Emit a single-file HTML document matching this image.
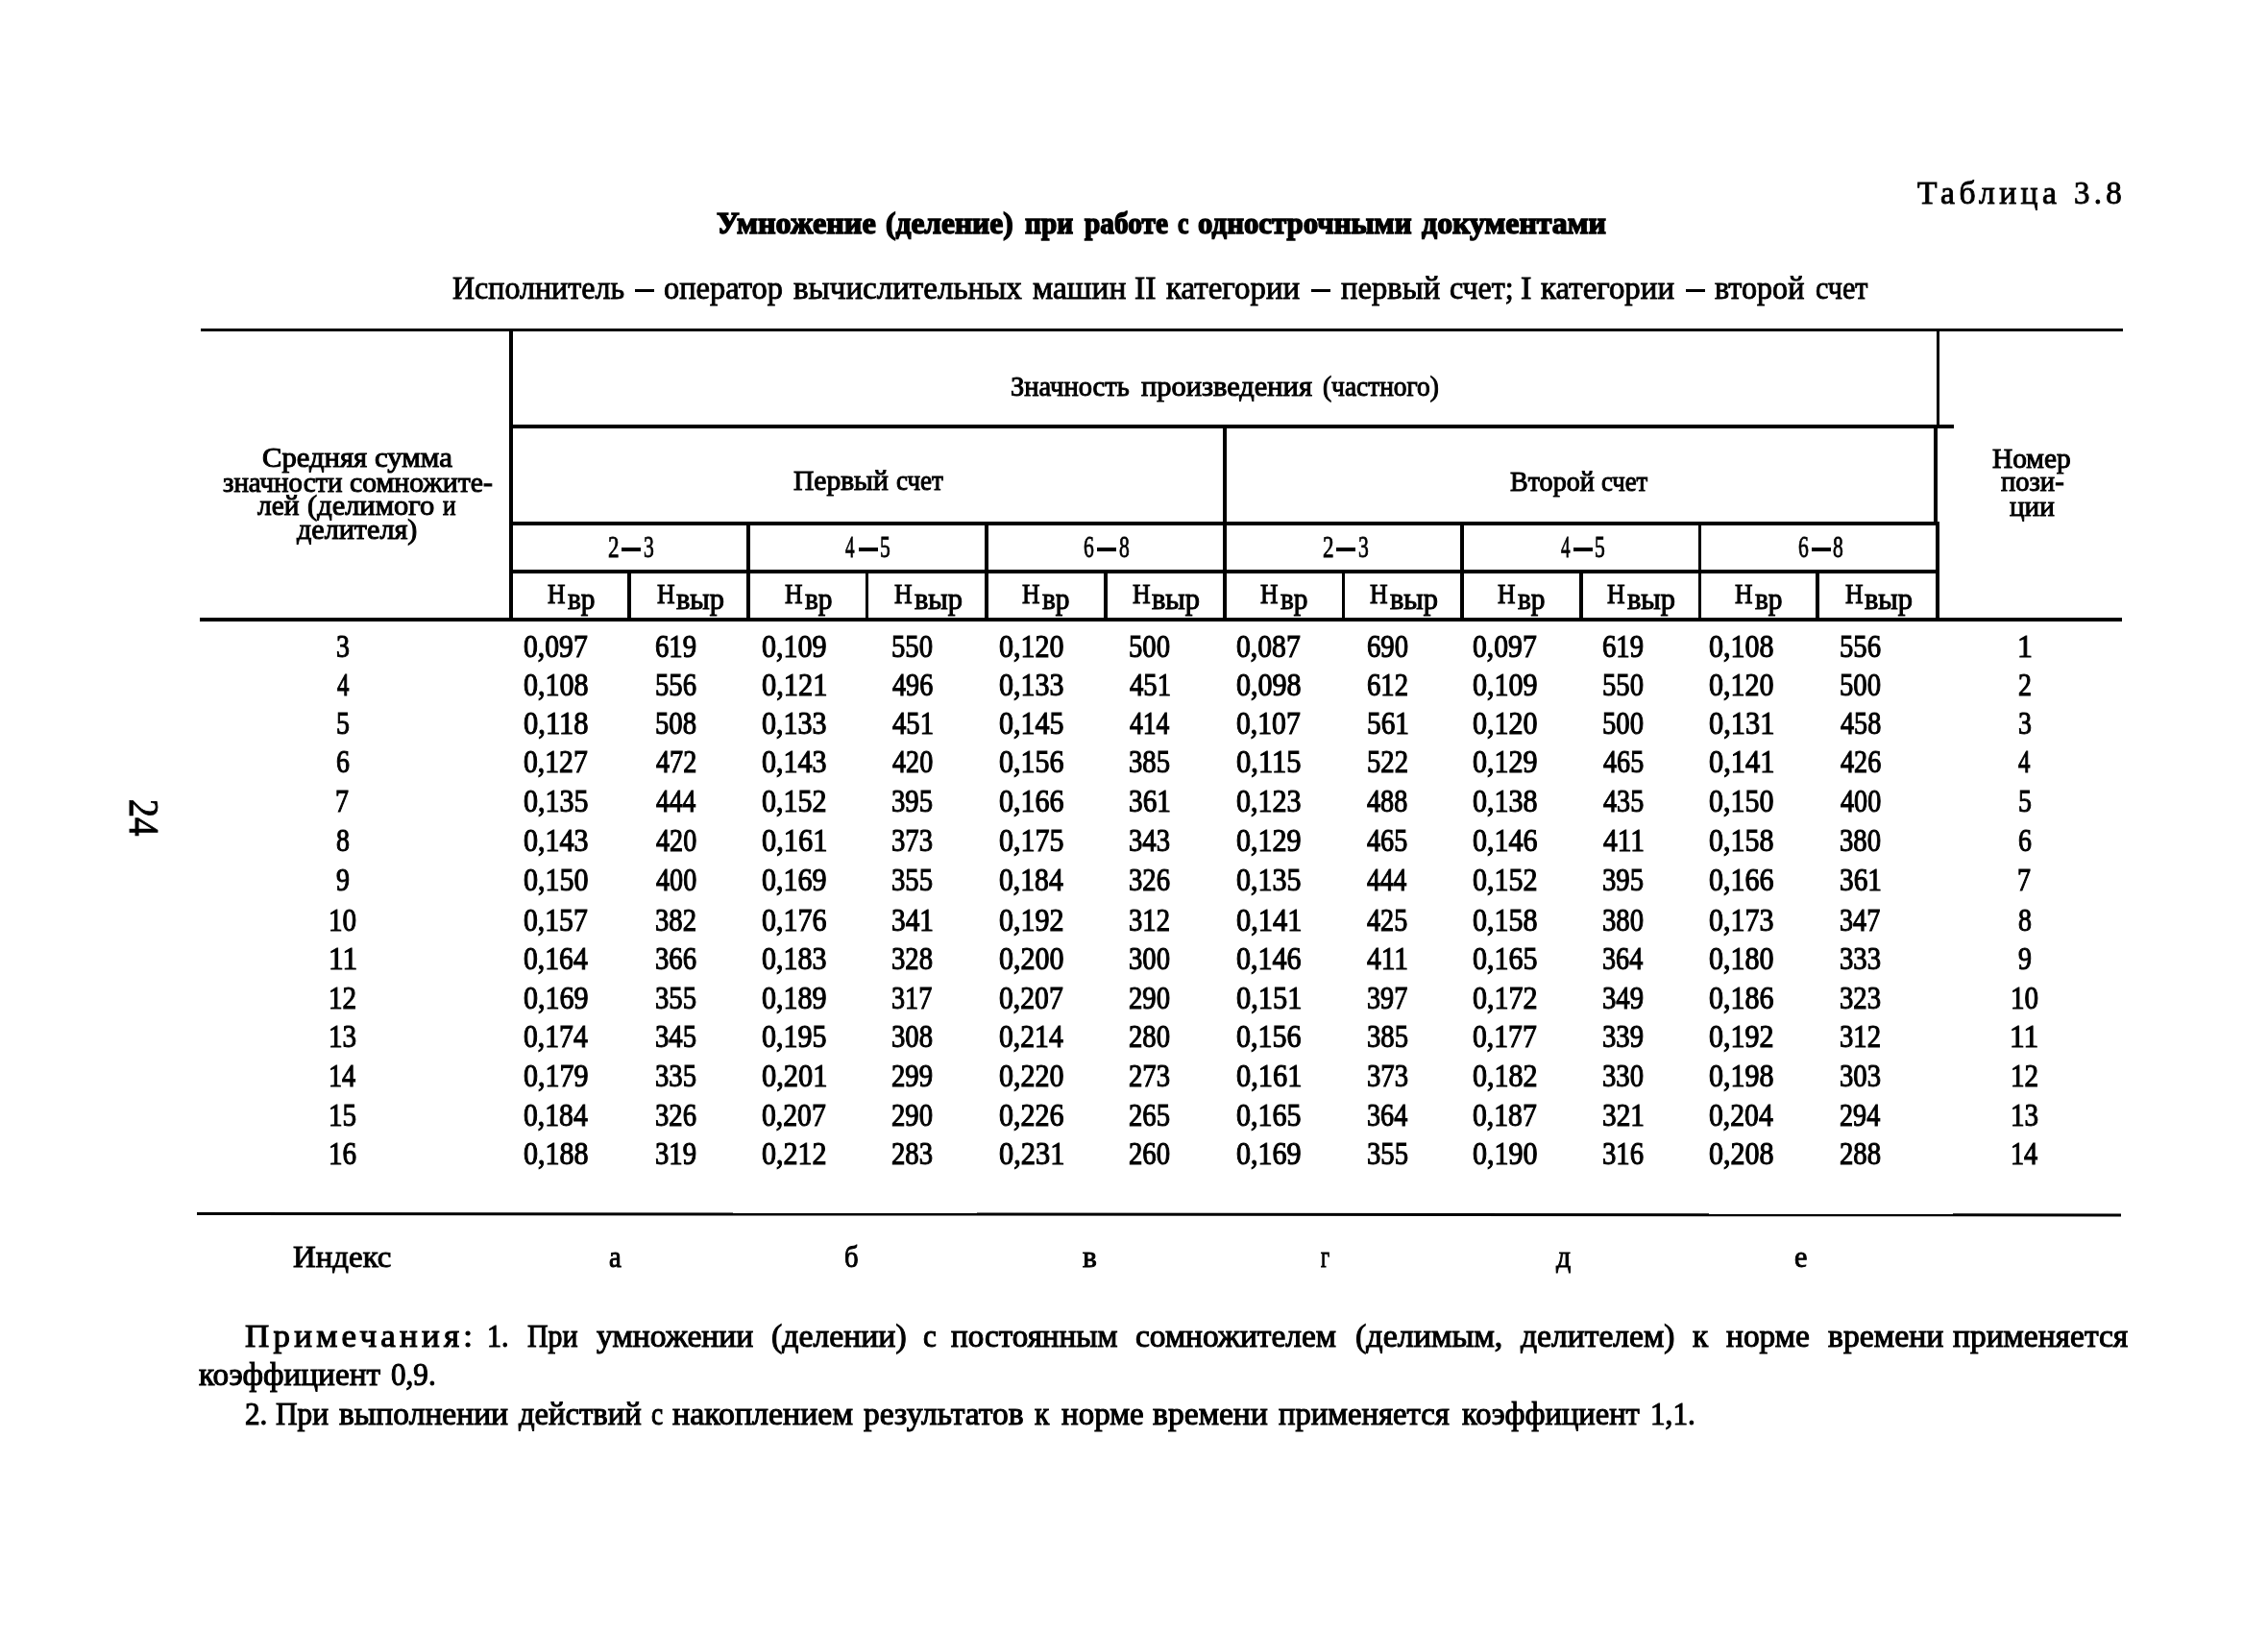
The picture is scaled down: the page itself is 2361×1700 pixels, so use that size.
<!DOCTYPE html>
<html lang="ru"><head><meta charset="utf-8"><title>Таблица 3.8</title>
<style>
html,body{margin:0;padding:0;background:#fff;}
body{width:2361px;height:1700px;position:relative;overflow:hidden;font-family:"Liberation Serif", serif;color:#000;}
.t{position:absolute;white-space:pre;line-height:1;transform-origin:0 0;margin:0;padding:0;}
.ln{position:absolute;background:#000;}
#pg{position:absolute;left:0;top:0;width:2361px;height:1700px;will-change:transform;}
</style></head>
<body><div id="pg">
<div class="ln" style="left:208.5px;top:341.8px;width:2001.3px;height:3.7px"></div>
<div class="ln" style="left:530.0px;top:442.4px;width:1504.0px;height:3.9px"></div>
<div class="ln" style="left:530.0px;top:543.2px;width:1489.0px;height:3.9px"></div>
<div class="ln" style="left:530.0px;top:593.3px;width:1489.0px;height:3.9px"></div>
<div class="ln" style="left:208.0px;top:643.2px;width:2000.6px;height:3.9px"></div>
<div class="ln" style="left:205.2px;top:1261.8px;width:2002.8px;height:3.3px;transform-origin:0 50%;transform:rotate(0.043deg)"></div>
<div class="ln" style="left:530.0px;top:342.0px;width:4.1px;height:305.0px"></div>
<div class="ln" style="left:2015.5px;top:342.0px;width:3.9px;height:102.5px"></div>
<div class="ln" style="left:2013.2px;top:444.5px;width:3.9px;height:100.7px"></div>
<div class="ln" style="left:2015.3px;top:545.2px;width:3.9px;height:101.8px"></div>
<div class="ln" style="left:1272.9px;top:444.0px;width:3.8px;height:203.0px"></div>
<div class="ln" style="left:776.8px;top:545.0px;width:3.9px;height:102.0px"></div>
<div class="ln" style="left:1025.2px;top:545.0px;width:3.9px;height:102.0px"></div>
<div class="ln" style="left:1520.2px;top:545.0px;width:3.9px;height:102.0px"></div>
<div class="ln" style="left:1767.6px;top:545.0px;width:3.9px;height:102.0px"></div>
<div class="ln" style="left:653.4px;top:595.0px;width:3.8px;height:52.0px"></div>
<div class="ln" style="left:900.7px;top:595.0px;width:3.8px;height:52.0px"></div>
<div class="ln" style="left:1149.4px;top:595.0px;width:3.8px;height:52.0px"></div>
<div class="ln" style="left:1396.6px;top:595.0px;width:3.8px;height:52.0px"></div>
<div class="ln" style="left:1644.0px;top:595.0px;width:3.8px;height:52.0px"></div>
<div class="ln" style="left:1890.4px;top:595.0px;width:3.8px;height:52.0px"></div>
<div class="ln" style="left:647.1px;top:570.2px;width:20.0px;height:3.6px"></div>
<div class="ln" style="left:893.5px;top:570.2px;width:20.0px;height:3.6px"></div>
<div class="ln" style="left:1142.1px;top:570.2px;width:20.0px;height:3.6px"></div>
<div class="ln" style="left:1391.1px;top:570.2px;width:20.0px;height:3.6px"></div>
<div class="ln" style="left:1637.6px;top:570.2px;width:20.0px;height:3.6px"></div>
<div class="ln" style="left:1885.5px;top:570.2px;width:20.0px;height:3.6px"></div>
<div class="ln" style="left:660.5px;top:301.1px;width:20.2px;height:3.0px"></div>
<div class="ln" style="left:1364.6px;top:301.1px;width:20.3px;height:3.0px"></div>
<div class="ln" style="left:1754.6px;top:301.1px;width:20.2px;height:3.0px"></div>
<span class="t" style="left:134.8px;top:832.8px;font-size:45px;-webkit-text-stroke:0.9px #000;transform:rotate(90deg) scaleX(0.86) translate(-1.5px,-37px);">24</span>
<span class="t" style="left:1995.64px;top:183px;font-size:34.5px;transform:scaleX(0.9748);letter-spacing:4.5px;-webkit-text-stroke:0.9px #000;">Таблица</span>
<span class="t" style="left:2158.77px;top:183px;font-size:34.5px;transform:scaleX(0.9552);letter-spacing:4.5px;-webkit-text-stroke:0.9px #000;">3.8</span>
<span class="t" style="left:745.94px;top:216px;font-size:32.5px;transform:scaleX(0.9928);font-weight:700;-webkit-text-stroke:1.5px #000;">Умножение</span>
<span class="t" style="left:922.36px;top:216px;font-size:32.5px;transform:scaleX(0.9676);font-weight:700;-webkit-text-stroke:1.5px #000;">(деление)</span>
<span class="t" style="left:1067.18px;top:216px;font-size:32.5px;transform:scaleX(0.9023);font-weight:700;-webkit-text-stroke:1.5px #000;">при</span>
<span class="t" style="left:1128.58px;top:216px;font-size:32.5px;transform:scaleX(0.9032);font-weight:700;-webkit-text-stroke:1.5px #000;">работе</span>
<span class="t" style="left:1226.30px;top:216px;font-size:32.5px;transform:scaleX(0.7931);font-weight:700;-webkit-text-stroke:1.5px #000;">с</span>
<span class="t" style="left:1247.36px;top:216px;font-size:32.5px;transform:scaleX(0.9493);font-weight:700;-webkit-text-stroke:1.5px #000;">однострочными</span>
<span class="t" style="left:1480.14px;top:216px;font-size:32.5px;transform:scaleX(0.9811);font-weight:700;-webkit-text-stroke:1.5px #000;">документами</span>
<span class="t" style="left:470.73px;top:283px;font-size:33.5px;transform:scaleX(0.9553);-webkit-text-stroke:0.9px #000;">Исполнитель</span>
<span class="t" style="left:690.77px;top:283px;font-size:33.5px;transform:scaleX(0.9690);-webkit-text-stroke:0.9px #000;">оператор</span>
<span class="t" style="left:826.04px;top:283px;font-size:33.5px;transform:scaleX(0.9858);-webkit-text-stroke:0.9px #000;">вычислительных</span>
<span class="t" style="left:1074.65px;top:283px;font-size:33.5px;transform:scaleX(0.9983);-webkit-text-stroke:0.9px #000;">машин</span>
<span class="t" style="left:1180.65px;top:283px;font-size:33.5px;transform:scaleX(1.0021);-webkit-text-stroke:0.9px #000;">II</span>
<span class="t" style="left:1214.24px;top:283px;font-size:33.5px;transform:scaleX(0.9838);-webkit-text-stroke:0.9px #000;">категории</span>
<span class="t" style="left:1395.84px;top:283px;font-size:33.5px;transform:scaleX(0.9750);-webkit-text-stroke:0.9px #000;">первый</span>
<span class="t" style="left:1509.18px;top:283px;font-size:33.5px;transform:scaleX(0.9532);-webkit-text-stroke:0.9px #000;">счет;</span>
<span class="t" style="left:1582.64px;top:283px;font-size:33.5px;transform:scaleX(1.0202);-webkit-text-stroke:0.9px #000;">I</span>
<span class="t" style="left:1603.84px;top:283px;font-size:33.5px;transform:scaleX(0.9824);-webkit-text-stroke:0.9px #000;">категории</span>
<span class="t" style="left:1785.43px;top:283px;font-size:33.5px;transform:scaleX(0.9590);-webkit-text-stroke:0.9px #000;">второй</span>
<span class="t" style="left:1890.01px;top:283px;font-size:33.5px;transform:scaleX(0.8994);-webkit-text-stroke:0.9px #000;">счет</span>
<span class="t" style="left:1051.51px;top:388px;font-size:29px;transform:scaleX(0.9830);-webkit-text-stroke:1.0px #000;">Значность</span>
<span class="t" style="left:1188.12px;top:388px;font-size:29px;transform:scaleX(1.0495);-webkit-text-stroke:1.0px #000;">произведения</span>
<span class="t" style="left:1376.73px;top:388px;font-size:29px;transform:scaleX(0.9439);-webkit-text-stroke:1.0px #000;">(частного)</span>
<span class="t" style="left:826.31px;top:486px;font-size:29px;transform:scaleX(1.0175);-webkit-text-stroke:1.0px #000;">Первый</span>
<span class="t" style="left:932.53px;top:486px;font-size:29px;transform:scaleX(0.9308);-webkit-text-stroke:1.0px #000;">счет</span>
<span class="t" style="left:1572.48px;top:487px;font-size:29px;transform:scaleX(0.9678);-webkit-text-stroke:1.0px #000;">Второй</span>
<span class="t" style="left:1667.24px;top:487px;font-size:29px;transform:scaleX(0.9195);-webkit-text-stroke:1.0px #000;">счет</span>
<span class="t" style="left:272.57px;top:462px;font-size:29px;transform:scaleX(1.0559);-webkit-text-stroke:1.0px #000;">Средняя</span>
<span class="t" style="left:390.07px;top:462px;font-size:29px;transform:scaleX(1.0642);-webkit-text-stroke:1.0px #000;">сумма</span>
<span class="t" style="left:231.70px;top:488px;font-size:29px;transform:scaleX(0.9956);-webkit-text-stroke:1.0px #000;">значности</span>
<span class="t" style="left:363.69px;top:488px;font-size:29px;transform:scaleX(1.0244);-webkit-text-stroke:1.0px #000;">сомножите-</span>
<span class="t" style="left:267.91px;top:512px;font-size:29px;transform:scaleX(1.0128);-webkit-text-stroke:1.0px #000;">лей</span>
<span class="t" style="left:319.97px;top:512px;font-size:29px;transform:scaleX(1.0503);-webkit-text-stroke:1.0px #000;">(делимого</span>
<span class="t" style="left:461.13px;top:512px;font-size:29px;transform:scaleX(0.8688);-webkit-text-stroke:1.0px #000;">и</span>
<span class="t" style="left:309.12px;top:537px;font-size:29px;transform:scaleX(1.0391);-webkit-text-stroke:1.0px #000;">делителя)</span>
<span class="t" style="left:2074.31px;top:463px;font-size:29px;transform:scaleX(1.0122);-webkit-text-stroke:1.0px #000;">Номер</span>
<span class="t" style="left:2083.39px;top:487px;font-size:29px;transform:scaleX(0.9852);-webkit-text-stroke:1.0px #000;">пози-</span>
<span class="t" style="left:2091.50px;top:513px;font-size:29px;transform:scaleX(1.0034);-webkit-text-stroke:1.0px #000;">ции</span>
<span class="t" style="left:633.35px;top:554px;font-size:31px;transform:scaleX(0.7464);-webkit-text-stroke:0.8px #000;">2</span>
<span class="t" style="left:669.68px;top:554px;font-size:31px;transform:scaleX(0.6959);-webkit-text-stroke:0.8px #000;">3</span>
<span class="t" style="left:880.45px;top:554px;font-size:31px;transform:scaleX(0.6131);-webkit-text-stroke:0.8px #000;">4</span>
<span class="t" style="left:916.08px;top:554px;font-size:31px;transform:scaleX(0.6959);-webkit-text-stroke:0.8px #000;">5</span>
<span class="t" style="left:1128.38px;top:554px;font-size:31px;transform:scaleX(0.6959);-webkit-text-stroke:0.8px #000;">6</span>
<span class="t" style="left:1164.68px;top:554px;font-size:31px;transform:scaleX(0.6959);-webkit-text-stroke:0.8px #000;">8</span>
<span class="t" style="left:1377.35px;top:554px;font-size:31px;transform:scaleX(0.7464);-webkit-text-stroke:0.8px #000;">2</span>
<span class="t" style="left:1413.68px;top:554px;font-size:31px;transform:scaleX(0.6959);-webkit-text-stroke:0.8px #000;">3</span>
<span class="t" style="left:1624.55px;top:554px;font-size:31px;transform:scaleX(0.6131);-webkit-text-stroke:0.8px #000;">4</span>
<span class="t" style="left:1660.18px;top:554px;font-size:31px;transform:scaleX(0.6959);-webkit-text-stroke:0.8px #000;">5</span>
<span class="t" style="left:1871.78px;top:554px;font-size:31px;transform:scaleX(0.6959);-webkit-text-stroke:0.8px #000;">6</span>
<span class="t" style="left:1908.08px;top:554px;font-size:31px;transform:scaleX(0.6959);-webkit-text-stroke:0.8px #000;">8</span>
<span class="t" style="left:569.53px;top:603px;font-size:30px;transform:scaleX(0.8545);-webkit-text-stroke:1.0px #000;">Н</span>
<span class="t" style="left:590.67px;top:608px;font-size:31px;transform:scaleX(0.9466);-webkit-text-stroke:1.0px #000;">вр</span>
<span class="t" style="left:683.83px;top:603px;font-size:30px;transform:scaleX(0.8591);-webkit-text-stroke:1.0px #000;">Н</span>
<span class="t" style="left:704.49px;top:608px;font-size:31px;transform:scaleX(0.9812);-webkit-text-stroke:1.0px #000;">выр</span>
<span class="t" style="left:816.88px;top:603px;font-size:30px;transform:scaleX(0.8545);-webkit-text-stroke:1.0px #000;">Н</span>
<span class="t" style="left:838.02px;top:608px;font-size:31px;transform:scaleX(0.9466);-webkit-text-stroke:1.0px #000;">вр</span>
<span class="t" style="left:931.18px;top:603px;font-size:30px;transform:scaleX(0.8591);-webkit-text-stroke:1.0px #000;">Н</span>
<span class="t" style="left:951.84px;top:608px;font-size:31px;transform:scaleX(0.9812);-webkit-text-stroke:1.0px #000;">выр</span>
<span class="t" style="left:1064.23px;top:603px;font-size:30px;transform:scaleX(0.8545);-webkit-text-stroke:1.0px #000;">Н</span>
<span class="t" style="left:1085.37px;top:608px;font-size:31px;transform:scaleX(0.9466);-webkit-text-stroke:1.0px #000;">вр</span>
<span class="t" style="left:1178.53px;top:603px;font-size:30px;transform:scaleX(0.8591);-webkit-text-stroke:1.0px #000;">Н</span>
<span class="t" style="left:1199.19px;top:608px;font-size:31px;transform:scaleX(0.9812);-webkit-text-stroke:1.0px #000;">выр</span>
<span class="t" style="left:1311.58px;top:603px;font-size:30px;transform:scaleX(0.8545);-webkit-text-stroke:1.0px #000;">Н</span>
<span class="t" style="left:1332.72px;top:608px;font-size:31px;transform:scaleX(0.9466);-webkit-text-stroke:1.0px #000;">вр</span>
<span class="t" style="left:1425.88px;top:603px;font-size:30px;transform:scaleX(0.8591);-webkit-text-stroke:1.0px #000;">Н</span>
<span class="t" style="left:1446.54px;top:608px;font-size:31px;transform:scaleX(0.9812);-webkit-text-stroke:1.0px #000;">выр</span>
<span class="t" style="left:1558.93px;top:603px;font-size:30px;transform:scaleX(0.8545);-webkit-text-stroke:1.0px #000;">Н</span>
<span class="t" style="left:1580.07px;top:608px;font-size:31px;transform:scaleX(0.9466);-webkit-text-stroke:1.0px #000;">вр</span>
<span class="t" style="left:1673.23px;top:603px;font-size:30px;transform:scaleX(0.8591);-webkit-text-stroke:1.0px #000;">Н</span>
<span class="t" style="left:1693.89px;top:608px;font-size:31px;transform:scaleX(0.9812);-webkit-text-stroke:1.0px #000;">выр</span>
<span class="t" style="left:1806.28px;top:603px;font-size:30px;transform:scaleX(0.8545);-webkit-text-stroke:1.0px #000;">Н</span>
<span class="t" style="left:1827.42px;top:608px;font-size:31px;transform:scaleX(0.9466);-webkit-text-stroke:1.0px #000;">вр</span>
<span class="t" style="left:1920.58px;top:603px;font-size:30px;transform:scaleX(0.8591);-webkit-text-stroke:1.0px #000;">Н</span>
<span class="t" style="left:1941.24px;top:608px;font-size:31px;transform:scaleX(0.9812);-webkit-text-stroke:1.0px #000;">выр</span>
<span class="t" style="left:350.03px;top:656px;font-size:34px;transform:scaleX(0.8199);-webkit-text-stroke:1.1px #000;">3</span>
<span class="t" style="left:545.21px;top:656px;font-size:34px;transform:scaleX(0.8721);-webkit-text-stroke:1.1px #000;">0,097</span>
<span class="t" style="left:681.92px;top:656px;font-size:34px;transform:scaleX(0.8443);-webkit-text-stroke:1.1px #000;">619</span>
<span class="t" style="left:792.80px;top:656px;font-size:34px;transform:scaleX(0.8836);-webkit-text-stroke:1.1px #000;">0,109</span>
<span class="t" style="left:928.42px;top:656px;font-size:34px;transform:scaleX(0.8443);-webkit-text-stroke:1.1px #000;">550</span>
<span class="t" style="left:1039.80px;top:656px;font-size:34px;transform:scaleX(0.8836);-webkit-text-stroke:1.1px #000;">0,120</span>
<span class="t" style="left:1175.32px;top:656px;font-size:34px;transform:scaleX(0.8443);-webkit-text-stroke:1.1px #000;">500</span>
<span class="t" style="left:1286.91px;top:656px;font-size:34px;transform:scaleX(0.8721);-webkit-text-stroke:1.1px #000;">0,087</span>
<span class="t" style="left:1422.62px;top:656px;font-size:34px;transform:scaleX(0.8443);-webkit-text-stroke:1.1px #000;">690</span>
<span class="t" style="left:1532.81px;top:656px;font-size:34px;transform:scaleX(0.8721);-webkit-text-stroke:1.1px #000;">0,097</span>
<span class="t" style="left:1668.12px;top:656px;font-size:34px;transform:scaleX(0.8443);-webkit-text-stroke:1.1px #000;">619</span>
<span class="t" style="left:1779.10px;top:656px;font-size:34px;transform:scaleX(0.8836);-webkit-text-stroke:1.1px #000;">0,108</span>
<span class="t" style="left:1914.92px;top:656px;font-size:34px;transform:scaleX(0.8443);-webkit-text-stroke:1.1px #000;">556</span>
<span class="t" style="left:2099.54px;top:656px;font-size:34px;transform:scaleX(0.9362);-webkit-text-stroke:1.1px #000;">1</span>
<span class="t" style="left:350.80px;top:696px;font-size:34px;transform:scaleX(0.7293);-webkit-text-stroke:1.1px #000;">4</span>
<span class="t" style="left:545.20px;top:696px;font-size:34px;transform:scaleX(0.8836);-webkit-text-stroke:1.1px #000;">0,108</span>
<span class="t" style="left:681.92px;top:696px;font-size:34px;transform:scaleX(0.8443);-webkit-text-stroke:1.1px #000;">556</span>
<span class="t" style="left:792.80px;top:696px;font-size:34px;transform:scaleX(0.8954);-webkit-text-stroke:1.1px #000;">0,121</span>
<span class="t" style="left:929.26px;top:696px;font-size:34px;transform:scaleX(0.8278);-webkit-text-stroke:1.1px #000;">496</span>
<span class="t" style="left:1039.80px;top:696px;font-size:34px;transform:scaleX(0.8836);-webkit-text-stroke:1.1px #000;">0,133</span>
<span class="t" style="left:1176.16px;top:696px;font-size:34px;transform:scaleX(0.8443);-webkit-text-stroke:1.1px #000;">451</span>
<span class="t" style="left:1286.90px;top:696px;font-size:34px;transform:scaleX(0.8836);-webkit-text-stroke:1.1px #000;">0,098</span>
<span class="t" style="left:1422.62px;top:696px;font-size:34px;transform:scaleX(0.8443);-webkit-text-stroke:1.1px #000;">612</span>
<span class="t" style="left:1532.80px;top:696px;font-size:34px;transform:scaleX(0.8836);-webkit-text-stroke:1.1px #000;">0,109</span>
<span class="t" style="left:1668.12px;top:696px;font-size:34px;transform:scaleX(0.8443);-webkit-text-stroke:1.1px #000;">550</span>
<span class="t" style="left:1779.10px;top:696px;font-size:34px;transform:scaleX(0.8836);-webkit-text-stroke:1.1px #000;">0,120</span>
<span class="t" style="left:1914.92px;top:696px;font-size:34px;transform:scaleX(0.8443);-webkit-text-stroke:1.1px #000;">500</span>
<span class="t" style="left:2100.53px;top:696px;font-size:34px;transform:scaleX(0.8199);-webkit-text-stroke:1.1px #000;">2</span>
<span class="t" style="left:350.03px;top:736px;font-size:34px;transform:scaleX(0.8199);-webkit-text-stroke:1.1px #000;">5</span>
<span class="t" style="left:545.20px;top:736px;font-size:34px;transform:scaleX(0.8986);-webkit-text-stroke:1.1px #000;">0,118</span>
<span class="t" style="left:681.92px;top:736px;font-size:34px;transform:scaleX(0.8443);-webkit-text-stroke:1.1px #000;">508</span>
<span class="t" style="left:792.80px;top:736px;font-size:34px;transform:scaleX(0.8836);-webkit-text-stroke:1.1px #000;">0,133</span>
<span class="t" style="left:929.26px;top:736px;font-size:34px;transform:scaleX(0.8443);-webkit-text-stroke:1.1px #000;">451</span>
<span class="t" style="left:1039.80px;top:736px;font-size:34px;transform:scaleX(0.8836);-webkit-text-stroke:1.1px #000;">0,145</span>
<span class="t" style="left:1176.15px;top:736px;font-size:34px;transform:scaleX(0.8119);-webkit-text-stroke:1.1px #000;">414</span>
<span class="t" style="left:1286.91px;top:736px;font-size:34px;transform:scaleX(0.8721);-webkit-text-stroke:1.1px #000;">0,107</span>
<span class="t" style="left:1422.61px;top:736px;font-size:34px;transform:scaleX(0.8615);-webkit-text-stroke:1.1px #000;">561</span>
<span class="t" style="left:1532.80px;top:736px;font-size:34px;transform:scaleX(0.8836);-webkit-text-stroke:1.1px #000;">0,120</span>
<span class="t" style="left:1668.12px;top:736px;font-size:34px;transform:scaleX(0.8443);-webkit-text-stroke:1.1px #000;">500</span>
<span class="t" style="left:1779.10px;top:736px;font-size:34px;transform:scaleX(0.8954);-webkit-text-stroke:1.1px #000;">0,131</span>
<span class="t" style="left:1915.76px;top:736px;font-size:34px;transform:scaleX(0.8278);-webkit-text-stroke:1.1px #000;">458</span>
<span class="t" style="left:2100.53px;top:736px;font-size:34px;transform:scaleX(0.8199);-webkit-text-stroke:1.1px #000;">3</span>
<span class="t" style="left:350.03px;top:776px;font-size:34px;transform:scaleX(0.8199);-webkit-text-stroke:1.1px #000;">6</span>
<span class="t" style="left:545.21px;top:776px;font-size:34px;transform:scaleX(0.8721);-webkit-text-stroke:1.1px #000;">0,127</span>
<span class="t" style="left:682.76px;top:776px;font-size:34px;transform:scaleX(0.8278);-webkit-text-stroke:1.1px #000;">472</span>
<span class="t" style="left:792.80px;top:776px;font-size:34px;transform:scaleX(0.8836);-webkit-text-stroke:1.1px #000;">0,143</span>
<span class="t" style="left:929.26px;top:776px;font-size:34px;transform:scaleX(0.8278);-webkit-text-stroke:1.1px #000;">420</span>
<span class="t" style="left:1039.80px;top:776px;font-size:34px;transform:scaleX(0.8836);-webkit-text-stroke:1.1px #000;">0,156</span>
<span class="t" style="left:1175.32px;top:776px;font-size:34px;transform:scaleX(0.8443);-webkit-text-stroke:1.1px #000;">385</span>
<span class="t" style="left:1286.90px;top:776px;font-size:34px;transform:scaleX(0.8986);-webkit-text-stroke:1.1px #000;">0,115</span>
<span class="t" style="left:1422.62px;top:776px;font-size:34px;transform:scaleX(0.8443);-webkit-text-stroke:1.1px #000;">522</span>
<span class="t" style="left:1532.80px;top:776px;font-size:34px;transform:scaleX(0.8836);-webkit-text-stroke:1.1px #000;">0,129</span>
<span class="t" style="left:1668.96px;top:776px;font-size:34px;transform:scaleX(0.8278);-webkit-text-stroke:1.1px #000;">465</span>
<span class="t" style="left:1779.10px;top:776px;font-size:34px;transform:scaleX(0.8954);-webkit-text-stroke:1.1px #000;">0,141</span>
<span class="t" style="left:1915.76px;top:776px;font-size:34px;transform:scaleX(0.8278);-webkit-text-stroke:1.1px #000;">426</span>
<span class="t" style="left:2101.30px;top:776px;font-size:34px;transform:scaleX(0.7293);-webkit-text-stroke:1.1px #000;">4</span>
<span class="t" style="left:349.21px;top:817px;font-size:34px;transform:scaleX(0.8199);-webkit-text-stroke:1.1px #000;">7</span>
<span class="t" style="left:545.20px;top:817px;font-size:34px;transform:scaleX(0.8836);-webkit-text-stroke:1.1px #000;">0,135</span>
<span class="t" style="left:682.75px;top:817px;font-size:34px;transform:scaleX(0.8119);-webkit-text-stroke:1.1px #000;">444</span>
<span class="t" style="left:792.80px;top:817px;font-size:34px;transform:scaleX(0.8836);-webkit-text-stroke:1.1px #000;">0,152</span>
<span class="t" style="left:928.42px;top:817px;font-size:34px;transform:scaleX(0.8443);-webkit-text-stroke:1.1px #000;">395</span>
<span class="t" style="left:1039.80px;top:817px;font-size:34px;transform:scaleX(0.8836);-webkit-text-stroke:1.1px #000;">0,166</span>
<span class="t" style="left:1175.31px;top:817px;font-size:34px;transform:scaleX(0.8615);-webkit-text-stroke:1.1px #000;">361</span>
<span class="t" style="left:1286.90px;top:817px;font-size:34px;transform:scaleX(0.8836);-webkit-text-stroke:1.1px #000;">0,123</span>
<span class="t" style="left:1423.46px;top:817px;font-size:34px;transform:scaleX(0.8278);-webkit-text-stroke:1.1px #000;">488</span>
<span class="t" style="left:1532.80px;top:817px;font-size:34px;transform:scaleX(0.8836);-webkit-text-stroke:1.1px #000;">0,138</span>
<span class="t" style="left:1668.96px;top:817px;font-size:34px;transform:scaleX(0.8278);-webkit-text-stroke:1.1px #000;">435</span>
<span class="t" style="left:1779.10px;top:817px;font-size:34px;transform:scaleX(0.8836);-webkit-text-stroke:1.1px #000;">0,150</span>
<span class="t" style="left:1915.76px;top:817px;font-size:34px;transform:scaleX(0.8278);-webkit-text-stroke:1.1px #000;">400</span>
<span class="t" style="left:2100.53px;top:817px;font-size:34px;transform:scaleX(0.8199);-webkit-text-stroke:1.1px #000;">5</span>
<span class="t" style="left:350.03px;top:858px;font-size:34px;transform:scaleX(0.8199);-webkit-text-stroke:1.1px #000;">8</span>
<span class="t" style="left:545.20px;top:858px;font-size:34px;transform:scaleX(0.8836);-webkit-text-stroke:1.1px #000;">0,143</span>
<span class="t" style="left:682.76px;top:858px;font-size:34px;transform:scaleX(0.8278);-webkit-text-stroke:1.1px #000;">420</span>
<span class="t" style="left:792.80px;top:858px;font-size:34px;transform:scaleX(0.8954);-webkit-text-stroke:1.1px #000;">0,161</span>
<span class="t" style="left:928.42px;top:858px;font-size:34px;transform:scaleX(0.8443);-webkit-text-stroke:1.1px #000;">373</span>
<span class="t" style="left:1039.80px;top:858px;font-size:34px;transform:scaleX(0.8836);-webkit-text-stroke:1.1px #000;">0,175</span>
<span class="t" style="left:1175.32px;top:858px;font-size:34px;transform:scaleX(0.8443);-webkit-text-stroke:1.1px #000;">343</span>
<span class="t" style="left:1286.90px;top:858px;font-size:34px;transform:scaleX(0.8836);-webkit-text-stroke:1.1px #000;">0,129</span>
<span class="t" style="left:1423.46px;top:858px;font-size:34px;transform:scaleX(0.8278);-webkit-text-stroke:1.1px #000;">465</span>
<span class="t" style="left:1532.80px;top:858px;font-size:34px;transform:scaleX(0.8836);-webkit-text-stroke:1.1px #000;">0,146</span>
<span class="t" style="left:1668.98px;top:858px;font-size:34px;transform:scaleX(0.8661);-webkit-text-stroke:1.1px #000;">411</span>
<span class="t" style="left:1779.10px;top:858px;font-size:34px;transform:scaleX(0.8836);-webkit-text-stroke:1.1px #000;">0,158</span>
<span class="t" style="left:1914.92px;top:858px;font-size:34px;transform:scaleX(0.8443);-webkit-text-stroke:1.1px #000;">380</span>
<span class="t" style="left:2100.53px;top:858px;font-size:34px;transform:scaleX(0.8199);-webkit-text-stroke:1.1px #000;">6</span>
<span class="t" style="left:350.03px;top:899px;font-size:34px;transform:scaleX(0.8199);-webkit-text-stroke:1.1px #000;">9</span>
<span class="t" style="left:545.20px;top:899px;font-size:34px;transform:scaleX(0.8836);-webkit-text-stroke:1.1px #000;">0,150</span>
<span class="t" style="left:682.76px;top:899px;font-size:34px;transform:scaleX(0.8278);-webkit-text-stroke:1.1px #000;">400</span>
<span class="t" style="left:792.80px;top:899px;font-size:34px;transform:scaleX(0.8836);-webkit-text-stroke:1.1px #000;">0,169</span>
<span class="t" style="left:928.42px;top:899px;font-size:34px;transform:scaleX(0.8443);-webkit-text-stroke:1.1px #000;">355</span>
<span class="t" style="left:1039.81px;top:899px;font-size:34px;transform:scaleX(0.8721);-webkit-text-stroke:1.1px #000;">0,184</span>
<span class="t" style="left:1175.32px;top:899px;font-size:34px;transform:scaleX(0.8443);-webkit-text-stroke:1.1px #000;">326</span>
<span class="t" style="left:1286.90px;top:899px;font-size:34px;transform:scaleX(0.8836);-webkit-text-stroke:1.1px #000;">0,135</span>
<span class="t" style="left:1423.45px;top:899px;font-size:34px;transform:scaleX(0.8119);-webkit-text-stroke:1.1px #000;">444</span>
<span class="t" style="left:1532.80px;top:899px;font-size:34px;transform:scaleX(0.8836);-webkit-text-stroke:1.1px #000;">0,152</span>
<span class="t" style="left:1668.12px;top:899px;font-size:34px;transform:scaleX(0.8443);-webkit-text-stroke:1.1px #000;">395</span>
<span class="t" style="left:1779.10px;top:899px;font-size:34px;transform:scaleX(0.8836);-webkit-text-stroke:1.1px #000;">0,166</span>
<span class="t" style="left:1914.91px;top:899px;font-size:34px;transform:scaleX(0.8615);-webkit-text-stroke:1.1px #000;">361</span>
<span class="t" style="left:2099.71px;top:899px;font-size:34px;transform:scaleX(0.8199);-webkit-text-stroke:1.1px #000;">7</span>
<span class="t" style="left:342.01px;top:941px;font-size:34px;transform:scaleX(0.8567);-webkit-text-stroke:1.1px #000;">10</span>
<span class="t" style="left:545.21px;top:941px;font-size:34px;transform:scaleX(0.8721);-webkit-text-stroke:1.1px #000;">0,157</span>
<span class="t" style="left:681.92px;top:941px;font-size:34px;transform:scaleX(0.8443);-webkit-text-stroke:1.1px #000;">382</span>
<span class="t" style="left:792.80px;top:941px;font-size:34px;transform:scaleX(0.8836);-webkit-text-stroke:1.1px #000;">0,176</span>
<span class="t" style="left:928.41px;top:941px;font-size:34px;transform:scaleX(0.8615);-webkit-text-stroke:1.1px #000;">341</span>
<span class="t" style="left:1039.80px;top:941px;font-size:34px;transform:scaleX(0.8836);-webkit-text-stroke:1.1px #000;">0,192</span>
<span class="t" style="left:1175.32px;top:941px;font-size:34px;transform:scaleX(0.8443);-webkit-text-stroke:1.1px #000;">312</span>
<span class="t" style="left:1286.90px;top:941px;font-size:34px;transform:scaleX(0.8954);-webkit-text-stroke:1.1px #000;">0,141</span>
<span class="t" style="left:1423.46px;top:941px;font-size:34px;transform:scaleX(0.8278);-webkit-text-stroke:1.1px #000;">425</span>
<span class="t" style="left:1532.80px;top:941px;font-size:34px;transform:scaleX(0.8836);-webkit-text-stroke:1.1px #000;">0,158</span>
<span class="t" style="left:1668.12px;top:941px;font-size:34px;transform:scaleX(0.8443);-webkit-text-stroke:1.1px #000;">380</span>
<span class="t" style="left:1779.10px;top:941px;font-size:34px;transform:scaleX(0.8836);-webkit-text-stroke:1.1px #000;">0,173</span>
<span class="t" style="left:1914.93px;top:941px;font-size:34px;transform:scaleX(0.8278);-webkit-text-stroke:1.1px #000;">347</span>
<span class="t" style="left:2100.53px;top:941px;font-size:34px;transform:scaleX(0.8199);-webkit-text-stroke:1.1px #000;">8</span>
<span class="t" style="left:341.91px;top:981px;font-size:34px;transform:scaleX(0.9216);-webkit-text-stroke:1.1px #000;">11</span>
<span class="t" style="left:545.21px;top:981px;font-size:34px;transform:scaleX(0.8721);-webkit-text-stroke:1.1px #000;">0,164</span>
<span class="t" style="left:681.92px;top:981px;font-size:34px;transform:scaleX(0.8443);-webkit-text-stroke:1.1px #000;">366</span>
<span class="t" style="left:792.80px;top:981px;font-size:34px;transform:scaleX(0.8836);-webkit-text-stroke:1.1px #000;">0,183</span>
<span class="t" style="left:928.42px;top:981px;font-size:34px;transform:scaleX(0.8443);-webkit-text-stroke:1.1px #000;">328</span>
<span class="t" style="left:1039.80px;top:981px;font-size:34px;transform:scaleX(0.8836);-webkit-text-stroke:1.1px #000;">0,200</span>
<span class="t" style="left:1175.32px;top:981px;font-size:34px;transform:scaleX(0.8443);-webkit-text-stroke:1.1px #000;">300</span>
<span class="t" style="left:1286.90px;top:981px;font-size:34px;transform:scaleX(0.8836);-webkit-text-stroke:1.1px #000;">0,146</span>
<span class="t" style="left:1423.48px;top:981px;font-size:34px;transform:scaleX(0.8661);-webkit-text-stroke:1.1px #000;">411</span>
<span class="t" style="left:1532.80px;top:981px;font-size:34px;transform:scaleX(0.8836);-webkit-text-stroke:1.1px #000;">0,165</span>
<span class="t" style="left:1668.13px;top:981px;font-size:34px;transform:scaleX(0.8278);-webkit-text-stroke:1.1px #000;">364</span>
<span class="t" style="left:1779.10px;top:981px;font-size:34px;transform:scaleX(0.8836);-webkit-text-stroke:1.1px #000;">0,180</span>
<span class="t" style="left:1914.92px;top:981px;font-size:34px;transform:scaleX(0.8443);-webkit-text-stroke:1.1px #000;">333</span>
<span class="t" style="left:2100.53px;top:981px;font-size:34px;transform:scaleX(0.8199);-webkit-text-stroke:1.1px #000;">9</span>
<span class="t" style="left:342.01px;top:1022px;font-size:34px;transform:scaleX(0.8567);-webkit-text-stroke:1.1px #000;">12</span>
<span class="t" style="left:545.20px;top:1022px;font-size:34px;transform:scaleX(0.8836);-webkit-text-stroke:1.1px #000;">0,169</span>
<span class="t" style="left:681.92px;top:1022px;font-size:34px;transform:scaleX(0.8443);-webkit-text-stroke:1.1px #000;">355</span>
<span class="t" style="left:792.80px;top:1022px;font-size:34px;transform:scaleX(0.8836);-webkit-text-stroke:1.1px #000;">0,189</span>
<span class="t" style="left:928.43px;top:1022px;font-size:34px;transform:scaleX(0.8278);-webkit-text-stroke:1.1px #000;">317</span>
<span class="t" style="left:1039.81px;top:1022px;font-size:34px;transform:scaleX(0.8721);-webkit-text-stroke:1.1px #000;">0,207</span>
<span class="t" style="left:1175.32px;top:1022px;font-size:34px;transform:scaleX(0.8443);-webkit-text-stroke:1.1px #000;">290</span>
<span class="t" style="left:1286.90px;top:1022px;font-size:34px;transform:scaleX(0.8954);-webkit-text-stroke:1.1px #000;">0,151</span>
<span class="t" style="left:1422.63px;top:1022px;font-size:34px;transform:scaleX(0.8278);-webkit-text-stroke:1.1px #000;">397</span>
<span class="t" style="left:1532.80px;top:1022px;font-size:34px;transform:scaleX(0.8836);-webkit-text-stroke:1.1px #000;">0,172</span>
<span class="t" style="left:1668.12px;top:1022px;font-size:34px;transform:scaleX(0.8443);-webkit-text-stroke:1.1px #000;">349</span>
<span class="t" style="left:1779.10px;top:1022px;font-size:34px;transform:scaleX(0.8836);-webkit-text-stroke:1.1px #000;">0,186</span>
<span class="t" style="left:1914.92px;top:1022px;font-size:34px;transform:scaleX(0.8443);-webkit-text-stroke:1.1px #000;">323</span>
<span class="t" style="left:2092.51px;top:1022px;font-size:34px;transform:scaleX(0.8567);-webkit-text-stroke:1.1px #000;">10</span>
<span class="t" style="left:342.01px;top:1062px;font-size:34px;transform:scaleX(0.8567);-webkit-text-stroke:1.1px #000;">13</span>
<span class="t" style="left:545.21px;top:1062px;font-size:34px;transform:scaleX(0.8721);-webkit-text-stroke:1.1px #000;">0,174</span>
<span class="t" style="left:681.92px;top:1062px;font-size:34px;transform:scaleX(0.8443);-webkit-text-stroke:1.1px #000;">345</span>
<span class="t" style="left:792.80px;top:1062px;font-size:34px;transform:scaleX(0.8836);-webkit-text-stroke:1.1px #000;">0,195</span>
<span class="t" style="left:928.42px;top:1062px;font-size:34px;transform:scaleX(0.8443);-webkit-text-stroke:1.1px #000;">308</span>
<span class="t" style="left:1039.81px;top:1062px;font-size:34px;transform:scaleX(0.8721);-webkit-text-stroke:1.1px #000;">0,214</span>
<span class="t" style="left:1175.32px;top:1062px;font-size:34px;transform:scaleX(0.8443);-webkit-text-stroke:1.1px #000;">280</span>
<span class="t" style="left:1286.90px;top:1062px;font-size:34px;transform:scaleX(0.8836);-webkit-text-stroke:1.1px #000;">0,156</span>
<span class="t" style="left:1422.62px;top:1062px;font-size:34px;transform:scaleX(0.8443);-webkit-text-stroke:1.1px #000;">385</span>
<span class="t" style="left:1532.81px;top:1062px;font-size:34px;transform:scaleX(0.8721);-webkit-text-stroke:1.1px #000;">0,177</span>
<span class="t" style="left:1668.12px;top:1062px;font-size:34px;transform:scaleX(0.8443);-webkit-text-stroke:1.1px #000;">339</span>
<span class="t" style="left:1779.10px;top:1062px;font-size:34px;transform:scaleX(0.8836);-webkit-text-stroke:1.1px #000;">0,192</span>
<span class="t" style="left:1914.92px;top:1062px;font-size:34px;transform:scaleX(0.8443);-webkit-text-stroke:1.1px #000;">312</span>
<span class="t" style="left:2092.41px;top:1062px;font-size:34px;transform:scaleX(0.9216);-webkit-text-stroke:1.1px #000;">11</span>
<span class="t" style="left:342.05px;top:1103px;font-size:34px;transform:scaleX(0.8308);-webkit-text-stroke:1.1px #000;">14</span>
<span class="t" style="left:545.20px;top:1103px;font-size:34px;transform:scaleX(0.8836);-webkit-text-stroke:1.1px #000;">0,179</span>
<span class="t" style="left:681.92px;top:1103px;font-size:34px;transform:scaleX(0.8443);-webkit-text-stroke:1.1px #000;">335</span>
<span class="t" style="left:792.80px;top:1103px;font-size:34px;transform:scaleX(0.8954);-webkit-text-stroke:1.1px #000;">0,201</span>
<span class="t" style="left:928.42px;top:1103px;font-size:34px;transform:scaleX(0.8443);-webkit-text-stroke:1.1px #000;">299</span>
<span class="t" style="left:1039.80px;top:1103px;font-size:34px;transform:scaleX(0.8836);-webkit-text-stroke:1.1px #000;">0,220</span>
<span class="t" style="left:1175.32px;top:1103px;font-size:34px;transform:scaleX(0.8443);-webkit-text-stroke:1.1px #000;">273</span>
<span class="t" style="left:1286.90px;top:1103px;font-size:34px;transform:scaleX(0.8954);-webkit-text-stroke:1.1px #000;">0,161</span>
<span class="t" style="left:1422.62px;top:1103px;font-size:34px;transform:scaleX(0.8443);-webkit-text-stroke:1.1px #000;">373</span>
<span class="t" style="left:1532.80px;top:1103px;font-size:34px;transform:scaleX(0.8836);-webkit-text-stroke:1.1px #000;">0,182</span>
<span class="t" style="left:1668.12px;top:1103px;font-size:34px;transform:scaleX(0.8443);-webkit-text-stroke:1.1px #000;">330</span>
<span class="t" style="left:1779.10px;top:1103px;font-size:34px;transform:scaleX(0.8836);-webkit-text-stroke:1.1px #000;">0,198</span>
<span class="t" style="left:1914.92px;top:1103px;font-size:34px;transform:scaleX(0.8443);-webkit-text-stroke:1.1px #000;">303</span>
<span class="t" style="left:2092.51px;top:1103px;font-size:34px;transform:scaleX(0.8567);-webkit-text-stroke:1.1px #000;">12</span>
<span class="t" style="left:342.01px;top:1144px;font-size:34px;transform:scaleX(0.8567);-webkit-text-stroke:1.1px #000;">15</span>
<span class="t" style="left:545.21px;top:1144px;font-size:34px;transform:scaleX(0.8721);-webkit-text-stroke:1.1px #000;">0,184</span>
<span class="t" style="left:681.92px;top:1144px;font-size:34px;transform:scaleX(0.8443);-webkit-text-stroke:1.1px #000;">326</span>
<span class="t" style="left:792.81px;top:1144px;font-size:34px;transform:scaleX(0.8721);-webkit-text-stroke:1.1px #000;">0,207</span>
<span class="t" style="left:928.42px;top:1144px;font-size:34px;transform:scaleX(0.8443);-webkit-text-stroke:1.1px #000;">290</span>
<span class="t" style="left:1039.80px;top:1144px;font-size:34px;transform:scaleX(0.8836);-webkit-text-stroke:1.1px #000;">0,226</span>
<span class="t" style="left:1175.32px;top:1144px;font-size:34px;transform:scaleX(0.8443);-webkit-text-stroke:1.1px #000;">265</span>
<span class="t" style="left:1286.90px;top:1144px;font-size:34px;transform:scaleX(0.8836);-webkit-text-stroke:1.1px #000;">0,165</span>
<span class="t" style="left:1422.63px;top:1144px;font-size:34px;transform:scaleX(0.8278);-webkit-text-stroke:1.1px #000;">364</span>
<span class="t" style="left:1532.81px;top:1144px;font-size:34px;transform:scaleX(0.8721);-webkit-text-stroke:1.1px #000;">0,187</span>
<span class="t" style="left:1668.11px;top:1144px;font-size:34px;transform:scaleX(0.8615);-webkit-text-stroke:1.1px #000;">321</span>
<span class="t" style="left:1779.11px;top:1144px;font-size:34px;transform:scaleX(0.8721);-webkit-text-stroke:1.1px #000;">0,204</span>
<span class="t" style="left:1914.93px;top:1144px;font-size:34px;transform:scaleX(0.8278);-webkit-text-stroke:1.1px #000;">294</span>
<span class="t" style="left:2092.51px;top:1144px;font-size:34px;transform:scaleX(0.8567);-webkit-text-stroke:1.1px #000;">13</span>
<span class="t" style="left:342.01px;top:1184px;font-size:34px;transform:scaleX(0.8567);-webkit-text-stroke:1.1px #000;">16</span>
<span class="t" style="left:545.20px;top:1184px;font-size:34px;transform:scaleX(0.8836);-webkit-text-stroke:1.1px #000;">0,188</span>
<span class="t" style="left:681.92px;top:1184px;font-size:34px;transform:scaleX(0.8443);-webkit-text-stroke:1.1px #000;">319</span>
<span class="t" style="left:792.80px;top:1184px;font-size:34px;transform:scaleX(0.8836);-webkit-text-stroke:1.1px #000;">0,212</span>
<span class="t" style="left:928.42px;top:1184px;font-size:34px;transform:scaleX(0.8443);-webkit-text-stroke:1.1px #000;">283</span>
<span class="t" style="left:1039.80px;top:1184px;font-size:34px;transform:scaleX(0.8954);-webkit-text-stroke:1.1px #000;">0,231</span>
<span class="t" style="left:1175.32px;top:1184px;font-size:34px;transform:scaleX(0.8443);-webkit-text-stroke:1.1px #000;">260</span>
<span class="t" style="left:1286.90px;top:1184px;font-size:34px;transform:scaleX(0.8836);-webkit-text-stroke:1.1px #000;">0,169</span>
<span class="t" style="left:1422.62px;top:1184px;font-size:34px;transform:scaleX(0.8443);-webkit-text-stroke:1.1px #000;">355</span>
<span class="t" style="left:1532.80px;top:1184px;font-size:34px;transform:scaleX(0.8836);-webkit-text-stroke:1.1px #000;">0,190</span>
<span class="t" style="left:1668.12px;top:1184px;font-size:34px;transform:scaleX(0.8443);-webkit-text-stroke:1.1px #000;">316</span>
<span class="t" style="left:1779.10px;top:1184px;font-size:34px;transform:scaleX(0.8836);-webkit-text-stroke:1.1px #000;">0,208</span>
<span class="t" style="left:1914.92px;top:1184px;font-size:34px;transform:scaleX(0.8443);-webkit-text-stroke:1.1px #000;">288</span>
<span class="t" style="left:2092.55px;top:1184px;font-size:34px;transform:scaleX(0.8308);-webkit-text-stroke:1.1px #000;">14</span>
<span class="t" style="left:304.51px;top:1292px;font-size:32px;transform:scaleX(1.0272);-webkit-text-stroke:1.0px #000;">Индекс</span>
<span class="t" style="left:633.75px;top:1292px;font-size:32px;transform:scaleX(0.9000);-webkit-text-stroke:1.0px #000;">а</span>
<span class="t" style="left:878.55px;top:1292px;font-size:32px;transform:scaleX(0.8937);-webkit-text-stroke:1.0px #000;">б</span>
<span class="t" style="left:1126.79px;top:1292px;font-size:32px;transform:scaleX(0.9813);-webkit-text-stroke:1.0px #000;">в</span>
<span class="t" style="left:1375.34px;top:1292px;font-size:32px;transform:scaleX(0.6857);-webkit-text-stroke:1.0px #000;">г</span>
<span class="t" style="left:1619.97px;top:1292px;font-size:32px;transform:scaleX(0.9412);-webkit-text-stroke:1.0px #000;">д</span>
<span class="t" style="left:1867.83px;top:1292px;font-size:32px;transform:scaleX(0.9429);-webkit-text-stroke:1.0px #000;">е</span>
<span class="t" style="left:255.44px;top:1373px;font-size:34.5px;transform:scaleX(1.0131);letter-spacing:4.2px;-webkit-text-stroke:1.1px #000;">Примечания:</span>
<span class="t" style="left:506.86px;top:1373px;font-size:34.5px;transform:scaleX(0.8725);-webkit-text-stroke:1.1px #000;">1.</span>
<span class="t" style="left:549.41px;top:1373px;font-size:34.5px;transform:scaleX(0.8662);-webkit-text-stroke:1.1px #000;">При</span>
<span class="t" style="left:620.84px;top:1373px;font-size:34.5px;transform:scaleX(0.9750);-webkit-text-stroke:1.1px #000;">умножении</span>
<span class="t" style="left:803.26px;top:1373px;font-size:34.5px;transform:scaleX(0.9784);-webkit-text-stroke:1.1px #000;">(делении)</span>
<span class="t" style="left:961.19px;top:1373px;font-size:34.5px;transform:scaleX(0.9007);-webkit-text-stroke:1.1px #000;">с</span>
<span class="t" style="left:990.23px;top:1373px;font-size:34.5px;transform:scaleX(0.9584);-webkit-text-stroke:1.1px #000;">постоянным</span>
<span class="t" style="left:1181.56px;top:1373px;font-size:34.5px;transform:scaleX(0.9689);-webkit-text-stroke:1.1px #000;">сомножителем</span>
<span class="t" style="left:1410.56px;top:1373px;font-size:34.5px;transform:scaleX(0.9859);-webkit-text-stroke:1.1px #000;">(делимым,</span>
<span class="t" style="left:1583.14px;top:1373px;font-size:34.5px;transform:scaleX(0.9739);-webkit-text-stroke:1.1px #000;">делителем)</span>
<span class="t" style="left:1762.33px;top:1373px;font-size:34.5px;transform:scaleX(0.9613);-webkit-text-stroke:1.1px #000;">к</span>
<span class="t" style="left:1797.43px;top:1373px;font-size:34.5px;transform:scaleX(0.9682);-webkit-text-stroke:1.1px #000;">норме</span>
<span class="t" style="left:1902.84px;top:1373px;font-size:34.5px;transform:scaleX(0.9785);-webkit-text-stroke:1.1px #000;">времени</span>
<span class="t" style="left:2033.33px;top:1373px;font-size:34.5px;transform:scaleX(0.9710);-webkit-text-stroke:1.1px #000;">применяется</span>
<span class="t" style="left:206.53px;top:1413px;font-size:34.5px;transform:scaleX(0.9642);-webkit-text-stroke:1.1px #000;">коэффициент</span>
<span class="t" style="left:407.09px;top:1413px;font-size:34.5px;transform:scaleX(0.9019);-webkit-text-stroke:1.1px #000;">0,9.</span>
<span class="t" style="left:254.59px;top:1454px;font-size:34.5px;transform:scaleX(0.9035);-webkit-text-stroke:1.1px #000;">2.</span>
<span class="t" style="left:287.19px;top:1454px;font-size:34.5px;transform:scaleX(0.9077);-webkit-text-stroke:1.1px #000;">При</span>
<span class="t" style="left:353.03px;top:1454px;font-size:34.5px;transform:scaleX(0.9722);-webkit-text-stroke:1.1px #000;">выполнении</span>
<span class="t" style="left:540.32px;top:1454px;font-size:34.5px;transform:scaleX(0.9464);-webkit-text-stroke:1.1px #000;">действий</span>
<span class="t" style="left:677.84px;top:1454px;font-size:34.5px;transform:scaleX(0.7947);-webkit-text-stroke:1.1px #000;">с</span>
<span class="t" style="left:700.04px;top:1454px;font-size:34.5px;transform:scaleX(0.9830);-webkit-text-stroke:1.1px #000;">накоплением</span>
<span class="t" style="left:899.04px;top:1454px;font-size:34.5px;transform:scaleX(0.9730);-webkit-text-stroke:1.1px #000;">результатов</span>
<span class="t" style="left:1076.50px;top:1454px;font-size:34.5px;transform:scaleX(0.9116);-webkit-text-stroke:1.1px #000;">к</span>
<span class="t" style="left:1104.53px;top:1454px;font-size:34.5px;transform:scaleX(0.9560);-webkit-text-stroke:1.1px #000;">норме</span>
<span class="t" style="left:1200.04px;top:1454px;font-size:34.5px;transform:scaleX(0.9752);-webkit-text-stroke:1.1px #000;">времени</span>
<span class="t" style="left:1331.22px;top:1454px;font-size:34.5px;transform:scaleX(0.9477);-webkit-text-stroke:1.1px #000;">применяется</span>
<span class="t" style="left:1521.62px;top:1454px;font-size:34.5px;transform:scaleX(0.9429);-webkit-text-stroke:1.1px #000;">коэффициент</span>
<span class="t" style="left:1717.98px;top:1454px;font-size:34.5px;transform:scaleX(0.9041);-webkit-text-stroke:1.1px #000;">1,1.</span>
</div></body></html>
